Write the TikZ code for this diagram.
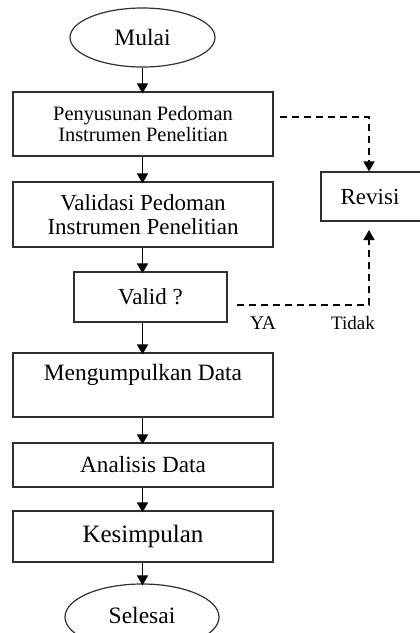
\documentclass[tikz,border=0pt]{standalone}
\usepackage{fontspec}
\setmainfont{Liberation Serif}
\usetikzlibrary{shapes.geometric,arrows.meta}
\definecolor{edge}{HTML}{303030}
\tikzset{
  box/.style={draw=edge, line width=1.2pt, rectangle, inner sep=0pt, align=center},
  term/.style={draw=edge, line width=1.2pt, ellipse, inner sep=0pt},
  flow/.style={line width=1.6pt, -{Triangle[length=10pt,width=11pt]}},
  back/.style={line width=1.6pt, dash pattern=on 7pt off 5pt, -{Triangle[length=10pt,width=11pt]}},
  lbl/.style={inner sep=0pt}
}
\newcommand{\fs}[1]{\fontsize{#1}{1.2\dimexpr #1pt\relax}\selectfont}
\begin{document}
\begin{tikzpicture}[x=1pt,y=-1pt]
\useasboundingbox (0,0) rectangle (420,633);
\node[term, minimum width=145pt, minimum height=59pt, font=\fs{23.5}] (mulai) at (142.5,37.5) {Mulai};
\node[box, minimum width=260pt, minimum height=64pt, font=\fs{20.4}] (b1) at (143,124) {Penyusunan Pedoman\\[-3pt]Instrumen Penelitian};
\node[box, minimum width=260pt, minimum height=65pt, font=\fs{23}] (b2) at (143,214.5) {Validasi Pedoman\\[-3pt]Instrumen Penelitian};
\node[box, minimum width=153pt, minimum height=50pt, font=\fs{23}] (valid) at (150.5,297) {Valid ?};
\node[box, minimum width=260pt, minimum height=64pt] (mk) at (143,385) {};
\node[lbl, font=\fs{23.4}] (mkt) at (143,375) {Mengumpulkan Data};
\node[box, minimum width=260pt, minimum height=44pt, font=\fs{23.2}] (an) at (143,465) {Analisis Data};
\node[box, minimum width=260pt, minimum height=51pt, font=\fs{25}] (ks) at (143,536.5) {Kesimpulan};
\node[term, minimum width=154pt, minimum height=66pt, font=\fs{23.5}] (sel) at (142,617) {\raisebox{3pt}{Selesai}};
\node[box, minimum width=100pt, minimum height=49pt, font=\fs{23}, text width=98pt] (rev) at (371,196.5) {\hspace*{-2pt}Revisi\hspace*{2pt}};
\node[lbl, font=\fs{19.5}] (ya) at (263,323) {YA};
\node[lbl, font=\fs{19}] (tidak) at (353,323) {Tidak};
\coordinate (x0) at (142.5,0);
\draw[flow] (mulai.south) -- (mulai.south -| x0) -- ([yshift=-2pt]b1.north -| x0);
\draw[flow] (b1.south -| x0) -- ([yshift=-2pt]b2.north -| x0);
\draw[flow] (b2.south -| x0) -- ([yshift=-2pt]valid.north -| x0);
\draw[flow] (valid.south -| x0) -- ([yshift=-2pt]mk.north -| x0);
\draw[flow] (mk.south -| x0) -- ([yshift=-2pt]an.north -| x0);
\draw[flow] (an.south -| x0) -- ([yshift=-2pt]ks.north -| x0);
\draw[flow] (ks.south -| x0) -- ([yshift=-2pt]sel.north -| x0);
\coordinate (c1) at (280,117);
\coordinate (c2) at (369,117);
\coordinate (c3) at (237,305);
\coordinate (c4) at (369,305);
\coordinate (c5) at (369,230);
\draw[back] (c1) -- (c2) -- (c2 |- rev.north);
\draw[back] (c3) -- (c4) -- (c5);
\end{tikzpicture}
\end{document}
